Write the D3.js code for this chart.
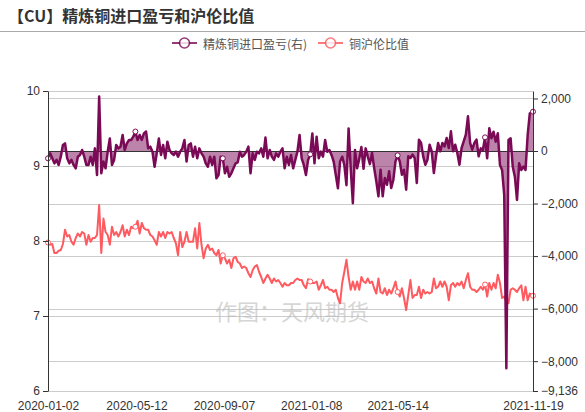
<!DOCTYPE html>
<html>
<head>
<meta charset="utf-8">
<script src="https://cdn.jsdelivr.net/npm/d3@7"></script>
<style>
  body { margin: 0; background: #fff; }
  svg { font-family: "Noto Sans CJK SC", "Noto Sans", sans-serif; }
</style>
</head>
<body>
<div class="chart"></div>
<script>
// closed (weekday) exchange holidays, used to build the trading-day category axis
var holidays = ["2020-01-01", "2020-01-24", "2020-01-27", "2020-01-28", "2020-01-29", "2020-01-30", "2020-01-31",
    "2020-04-06", "2020-05-01", "2020-05-04", "2020-05-05", "2020-06-25", "2020-06-26",
    "2020-10-01", "2020-10-02", "2020-10-05", "2020-10-06", "2020-10-07", "2020-10-08",
    "2021-01-01", "2021-02-11", "2021-02-12", "2021-02-15", "2021-02-16", "2021-02-17",
    "2021-04-05", "2021-05-03", "2021-05-04", "2021-05-05", "2021-06-14", "2021-09-20", "2021-09-21",
    "2021-10-01", "2021-10-04", "2021-10-05", "2021-10-06", "2021-10-07"];

var xLabels = ["2020-01-02", "2020-05-12", "2020-09-07", "2021-01-08", "2021-05-14", "2021-11-19"];

// values read every second trading day
var profit = [
    -280, -90, -280, -470, -340, -530, -216, 230, 290, -280,
    -470, -340, -530, -660, -216, -150, 40, -216, -530, -530,
    -216, -530, 100, -915, 2070, -850, -400, -660, -25, 480,
    -530, -340, 230, 100, 165, 610, 40, 290, 420, 420,
    545, 740, 420, 610, 420, 670, 740, 100, 165, -25,
    -600, -90, 480, -150, 230, -280, 355, 40, -90, -150,
    -25, -216, -25, 100, 420, -400, 230, 290, -216, 165,
    -280, 100, -90, -216, -470, -600, -216, -530, -216, -1040,
    -915, -216, -280, -850, -600, -980, -850, -660, -470, -430,
    -25, -216, -150, -25, 165, -850, -90, -340, -25, -90,
    100, -216, 510, -280, 40, -216, -340, -90, -216, -25,
    100, -660, -216, -530, -150, -660, -340, -25, 610, -280,
    -530, -915, -340, -127, 670, -470, 545, -280, -25, -216,
    420, -25, 40, -150, -400, -915, -1420, -400, -216, -530,
    -1300, 860, -660, -1990, 40, -660, -300, 150, -680, 100,
    -216, -500, -76, -648, -1156, -1727, -711, -1727, -1029, -1283,
    -775, -1410, -1092, -394, -165, -394, -902, -711, -1473, -203,
    -267, -140, -267, -1220, 432, 305, -203, -521, -330, 241,
    -13, -838, -203, 305, -13, 305, 178, 495, 114, 749,
    -13, 241, -76, -521, 114, 368, 622, 1320, 305, 50,
    305, 432, -203, 100, 38, 520, -280, 863, 482, 736,
    355, 673, -533, -723, -1675, -8274, 419, 482, -596, -977,
    -1865, -470, -723, -596, -723, 609, 1434, 1497];

var ratio = [
    7.98, 7.95, 7.96, 7.84, 7.84, 7.87, 7.88, 7.96, 8.15, 8.06,
    8.08, 7.99, 7.95, 8.04, 8.10, 8.06, 8.12, 8.10, 7.95, 8.08,
    7.99, 8.04, 8.04, 8.08, 8.48, 7.84, 8.30, 8.12, 8.08, 7.95,
    8.19, 8.08, 8.12, 8.06, 8.12, 8.21, 8.06, 8.15, 8.08, 8.19,
    8.17, 8.19, 8.27, 8.10, 8.24, 8.17, 8.15, 8.15, 8.08, 8.06,
    8.01, 7.95, 8.12, 8.06, 8.12, 8.04, 8.12, 8.10, 8.12, 8.04,
    7.97, 7.81, 8.12, 7.92, 7.99, 8.12, 7.99, 7.99, 7.99, 8.17,
    7.90, 8.24, 7.95, 7.77, 7.90, 7.95, 7.88, 7.90, 7.84, 7.81,
    7.88, 7.70, 7.81, 7.77, 7.70, 7.75, 7.64, 7.77, 7.79, 7.72,
    7.70, 7.64, 7.66, 7.64, 7.57, 7.52, 7.61, 7.66, 7.68, 7.59,
    7.52, 7.44, 7.50, 7.55, 7.50, 7.44, 7.50, 7.46, 7.48, 7.44,
    7.39, 7.44, 7.41, 7.41, 7.44, 7.44, 7.48, 7.50, 7.48, 7.48,
    7.41, 7.37, 7.49, 7.46, 7.44, 7.44, 7.46, 7.35, 7.41, 7.48,
    7.37, 7.39, 7.35, 7.35, 7.32, 7.35, 7.24, 7.17, 7.44, 7.59,
    7.75, 7.52, 7.35, 7.46, 7.35, 7.46, 7.35, 7.52, 7.46, 7.44,
    7.50, 7.44, 7.46, 7.37, 7.30, 7.50, 7.32, 7.30, 7.37, 7.28,
    7.35, 7.30, 7.37, 7.46, 7.32, 7.26, 7.37, 7.24, 7.08, 7.28,
    7.48, 7.24, 7.28, 7.28, 7.39, 7.24, 7.35, 7.30, 7.32, 7.30,
    7.32, 7.50, 7.37, 7.39, 7.46, 7.39, 7.46, 7.39, 7.21, 7.41,
    7.44, 7.39, 7.44, 7.41, 7.46, 7.37, 7.48, 7.57, 7.39, 7.35,
    7.35, 7.32, 7.35, 7.39, 7.35, 7.42, 7.26, 7.44, 7.35, 7.44,
    7.37, 7.55, 7.44, 7.24, 7.26, 7.19, 7.17, 7.35, 7.37, 7.35,
    7.32, 7.37, 7.41, 7.21, 7.39, 7.21, 7.30, 7.27];

var leftTicks = [6, 7, 8, 9, 10];
var rightTicks = [2000, 0, -2000, -4000, -6000, -8000, -9136];
var markerIdx = [0, 41, 82, 123, 164, 205, 227];

var width = 585, height = 412;
var margin = {top: 91, right: 52, bottom: 21, left: 48};
var profitColor = "#7a0a55", ratioColor = "#ff5a5f";
var axisFont = "\"Liberation Sans\", Arial, sans-serif";

// trading-day calendar
var fmt = d3.timeFormat("%Y-%m-%d");
var dates = d3.timeDay.range(new Date(2020, 0, 2), new Date(2021, 10, 20))
    .filter(function (d) { return d.getDay() != 0 && d.getDay() != 6 && holidays.indexOf(fmt(d)) < 0; })
    .map(fmt);

// every sample sits on every second trading day, last one on the last day
function sampleDate(i) {
    return i == profit.length - 1 ? dates[dates.length - 1] : dates[i * 2];
}

var x = d3.scalePoint()
    .domain(dates)
    .range([margin.left, width - margin.right]);
var yL = d3.scaleLinear().domain([6, 10]).range([height - margin.bottom, margin.top]);
var yR = d3.scaleLinear().domain([-9136, 2284]).range([height - margin.bottom, margin.top]);

var svg = d3.select("div.chart").append("svg")
    .attr("width", width)
    .attr("height", height);

// title
svg.append("text")
    .attr("x", 8).attr("y", 15)
    .attr("dominant-baseline", "central")
    .style("font-size", "16px").style("font-weight", "bold")
    .style("fill", "#333")
    .text("【CU】精炼铜进口盈亏和沪伦比值");
svg.append("line")
    .attr("x1", 0).attr("x2", width)
    .attr("y1", 31.5).attr("y2", 31.5)
    .style("stroke", "#aaa");

// legend
var legend = [
    {name: "精炼铜进口盈亏(右)", color: profitColor, x: 172},
    {name: "铜沪伦比值", color: ratioColor, x: 318}
];
var lg = svg.selectAll("g.legend").data(legend).enter().append("g")
    .attr("class", "legend")
    .attr("transform", function (d) { return "translate(" + d.x + ",43)"; });
lg.append("line").attr("x1", 0).attr("x2", 25)
    .style("stroke", function (d) { return d.color; }).style("stroke-width", 2).style("opacity", 0.8);
lg.append("circle").attr("cx", 12.5).attr("r", 5)
    .style("fill", "#fff").style("stroke", function (d) { return d.color; }).style("stroke-width", 1.6).style("opacity", 0.8);
lg.append("text").attr("x", 31).attr("dominant-baseline", "central")
    .style("font-size", "12px").style("fill", "#555")
    .text(function (d) { return d.name; });

// grid lines
svg.append("g").selectAll("line").data(leftTicks.slice(1)).enter().append("line")
    .attr("x1", margin.left).attr("x2", width - margin.right)
    .attr("y1", function (d) { return Math.round(yL(d)) + 0.5; })
    .attr("y2", function (d) { return Math.round(yL(d)) + 0.5; })
    .style("stroke", "#ccc");
svg.append("g").selectAll("line").data(rightTicks.filter(function (d) { return d != 0 && d != -9136; })).enter().append("line")
    .attr("x1", margin.left).attr("x2", width - margin.right)
    .attr("y1", function (d) { return Math.round(yR(d)) + 0.5; })
    .attr("y2", function (d) { return Math.round(yR(d)) + 0.5; })
    .style("stroke", "#ccc");
svg.append("line")
    .attr("x1", margin.left).attr("x2", width - margin.right)
    .attr("y1", height - margin.bottom + 0.5).attr("y2", height - margin.bottom + 0.5)
    .style("stroke", "#ccc");

// watermark
svg.append("text")
    .attr("x", 292).attr("y", 310)
    .attr("text-anchor", "middle").attr("dominant-baseline", "central")
    .style("font-size", "22px").style("fill", "#bbb").style("opacity", 0.6)
    .text("作图：天风期货");

// ratio line
var ratioLine = d3.line()
    .x(function (d, i) { return x(sampleDate(i)); })
    .y(function (d) { return yL(d); });
svg.append("path").datum(ratio)
    .attr("d", ratioLine)
    .style("fill", "none").style("stroke", ratioColor).style("stroke-width", 2)
    .style("stroke-linejoin", "round");

// profit area + line
var profitArea = d3.area()
    .x(function (d, i) { return x(sampleDate(i)); })
    .y0(yR(0))
    .y1(function (d) { return yR(d); });
svg.append("path").datum(profit)
    .attr("d", profitArea)
    .style("fill", profitColor).style("opacity", 0.5);
svg.append("line")
    .attr("x1", margin.left).attr("x2", width - margin.right)
    .attr("y1", Math.round(yR(0)) + 0.5).attr("y2", Math.round(yR(0)) + 0.5)
    .style("stroke", "#333");
var profitLine = d3.line()
    .x(function (d, i) { return x(sampleDate(i)); })
    .y(function (d) { return yR(d); });
svg.append("path").datum(profit)
    .attr("d", profitLine)
    .style("fill", "none").style("stroke", profitColor).style("stroke-width", 2.5)
    .style("stroke-linejoin", "round");

// hollow markers
svg.selectAll("circle.rm").data(markerIdx).enter().append("circle")
    .attr("class", "rm")
    .attr("cx", function (i) { return x(sampleDate(i)); })
    .attr("cy", function (i) { return yL(ratio[i]); })
    .attr("r", 2.5)
    .style("fill", "#fff").style("stroke", ratioColor).style("stroke-width", 1);
svg.selectAll("circle.pm").data(markerIdx).enter().append("circle")
    .attr("class", "pm")
    .attr("cx", function (i) { return x(sampleDate(i)); })
    .attr("cy", function (i) { return yR(profit[i]); })
    .attr("r", 2.5)
    .style("fill", "#fff").style("stroke", profitColor).style("stroke-width", 1);

// axes
var axL = svg.append("g")
    .attr("transform", "translate(" + margin.left + ",0)")
    .call(d3.axisLeft(yL).tickValues(leftTicks).tickFormat(d3.format("d")).tickSize(5).tickPadding(3).tickSizeOuter(0));
var axR = svg.append("g")
    .attr("transform", "translate(" + (width - margin.right) + ",0)")
    .call(d3.axisRight(yR).tickValues(rightTicks).tickFormat(d3.format(",")).tickSize(5).tickPadding(3).tickSizeOuter(0));
[axL, axR].forEach(function (a) {
    a.select(".domain").style("stroke", "#333");
    a.selectAll(".tick line").style("stroke", "#333");
    a.selectAll("text").style("font-size", "12px").style("fill", "#333")
        .style("font-family", axisFont);
});

var axX = svg.append("g")
    .attr("transform", "translate(0," + (height - margin.bottom) + ")")
    .call(d3.axisBottom(x).tickValues(xLabels).tickSize(0).tickPadding(10));
axX.select(".domain").remove();
axX.selectAll("text").style("font-size", "12px").style("fill", "#333")
    .style("font-family", axisFont);
</script>
</body>
</html>
